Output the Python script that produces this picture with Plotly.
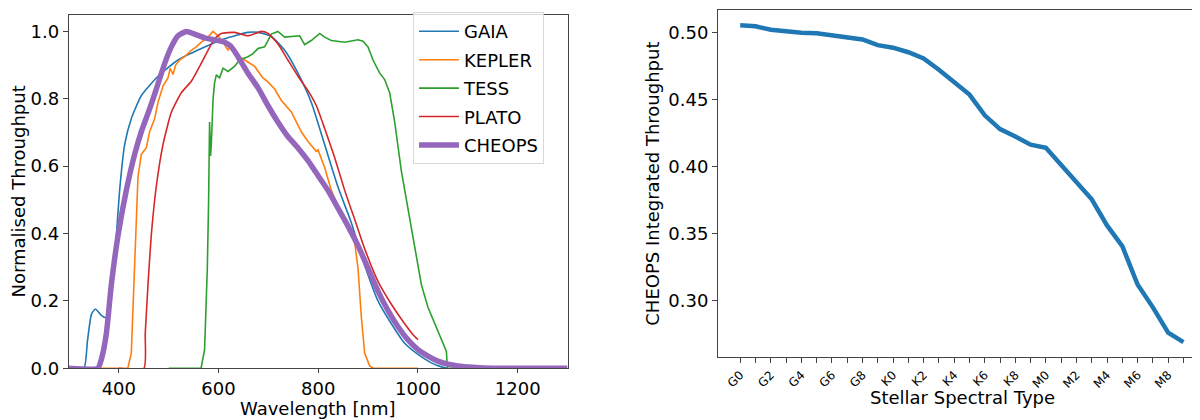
import plotly.graph_objects as go

# ---------------- Left panel data (wavelength nm, normalised throughput) ----------------
gaia_wl = [300, 330, 337, 345, 353, 365, 375, 391.6, 395, 401.6, 411.7, 425, 445, 478.5, 518.7, 565.5,
           612.3, 659, 679, 705.8, 732.6, 759.3, 786.1, 812.8, 839.6, 866.3, 893.1, 919.8, 946.6,
           973.3, 1000, 1026.8, 1047, 1060]
gaia_val = [0, 0, 0.08, 0.16, 0.176, 0.157, 0.15, 0.335, 0.393, 0.528, 0.664, 0.741, 0.809, 0.867, 0.915,
            0.949, 0.978, 0.997, 0.997, 0.985, 0.944, 0.876, 0.789, 0.664, 0.538, 0.432, 0.306, 0.2,
            0.132, 0.074, 0.041, 0.016, 0.004, 0]

kepler_wl = [300, 418, 425, 431.7, 438.4, 445, 455, 461.8, 471.9, 478.5, 488.6, 498.6, 503, 508.6, 514,
             522, 532, 545.4, 555.4, 565.5, 578.9, 588.9, 599, 609, 619, 625.7, 635.7, 652.4, 672.5,
             689, 699, 712.5, 726, 746, 766, 779.4, 796, 799.5, 812.8, 826.2, 843, 859.6, 873, 879.7,
             886.4, 893, 903, 910, 1000]
kepler_val = [0, 0, 0.045, 0.297, 0.567, 0.635, 0.654, 0.702, 0.741, 0.789, 0.838, 0.862, 0.89, 0.872, 0.9,
              0.915, 0.925, 0.944, 0.954, 0.968, 0.983, 1.0, 0.987, 0.968, 0.944, 0.963, 0.93, 0.915, 0.896,
              0.862, 0.85, 0.829, 0.795, 0.761, 0.702, 0.673, 0.644, 0.649, 0.596, 0.528, 0.470, 0.432,
              0.374, 0.297, 0.152, 0.045, 0.007, 0, 0]

tess_wl = [500, 565, 572, 577.5, 580, 582, 584, 585.5, 589, 592, 595.6, 602, 609, 619, 632, 642, 659,
           669, 679, 692.5, 706, 719, 732.6, 746, 762.7, 772.7, 786, 802.8, 812.8, 826, 853, 879.7,
           889.7, 899.8, 909.8, 923.2, 933.2, 943.2, 953.3, 966.6, 980, 993.4, 1006.8, 1020, 1033.5,
           1047, 1057, 1059, 1070]
tess_val = [0, 0, 0.055, 0.297, 0.49, 0.731, 0.63, 0.664, 0.799, 0.847, 0.871, 0.862, 0.891, 0.881, 0.896,
            0.915, 0.925, 0.934, 0.949, 0.954, 0.992, 1.0, 0.983, 0.985, 0.987, 0.961, 0.973, 0.994, 0.983,
            0.973, 0.968, 0.975, 0.971, 0.954, 0.915, 0.876, 0.857, 0.818, 0.731, 0.586, 0.470, 0.355,
            0.248, 0.181, 0.132, 0.084, 0.05, 0, 0]

plato_wl = [400, 450.5, 453, 458.5, 465, 475, 488.6, 505.3, 525.4, 545.4, 562, 578.9, 592, 605.6, 632.4,
            659, 686, 699, 719, 739, 759.3, 779.4, 796, 812.8, 833, 853, 873, 893, 919.8, 946.6, 973.3,
            993.4, 1000]
plato_val = [0, 0, 0.103, 0.248, 0.393, 0.538, 0.664, 0.760, 0.818, 0.852, 0.896, 0.944, 0.978, 0.994,
             0.997, 0.987, 1.0, 0.994, 0.963, 0.915, 0.867, 0.824, 0.780, 0.712, 0.625, 0.528, 0.442,
             0.355, 0.258, 0.190, 0.132, 0.094, 0.085]

cheops_wl = [300, 358, 364.9, 375, 385, 398.3, 415, 431.7, 445, 461.8, 475, 492, 505.3, 518.7, 535.4,
             552, 572, 592, 612.3, 625.7, 639, 659, 679, 699, 719, 739, 759.3, 779.4, 799.5, 819.5,
             839.6, 859.6, 879.7, 899.8, 919.8, 940, 960, 980, 1000, 1020, 1040, 1060, 1080, 1110,
             1150, 1300]
cheops_val = [0, 0, 0.026, 0.103, 0.248, 0.393, 0.528, 0.635, 0.702, 0.770, 0.828, 0.905, 0.954, 0.987,
              1.0, 0.992, 0.981, 0.975, 0.968, 0.954, 0.925, 0.876, 0.833, 0.78, 0.731, 0.688, 0.654,
              0.616, 0.572, 0.528, 0.475, 0.422, 0.364, 0.297, 0.229, 0.171, 0.123, 0.084, 0.055, 0.036,
              0.021, 0.012, 0.007, 0.003, 0.0, 0.0]

# ---------------- Right panel data ----------------
spectral_types = [f"{c}{i}" for c in "GKM" for i in range(10)]
integrated_throughput = [0.5055, 0.5048, 0.5022, 0.5009, 0.5000, 0.4995, 0.4978, 0.4961, 0.4949, 0.4907,
                         0.4888, 0.4854, 0.4808, 0.4723, 0.4628, 0.4538, 0.4383, 0.4280, 0.4225, 0.4164,
                         0.4140, 0.4013, 0.3885, 0.3756, 0.3561, 0.3406, 0.3120, 0.2949, 0.2760, 0.2689]
spectral_ticktext = [t if i % 2 == 0 else "" for i, t in enumerate(spectral_types)]

FONT = "DejaVu Sans"
AX = "#444444"
W, H = 1200, 420

fig = go.Figure()
series = [
    ("GAIA", gaia_wl, gaia_val, "#1f77b4", 1.6, "spline"),
    ("KEPLER", kepler_wl, kepler_val, "#ff7f0e", 1.6, "linear"),
    ("TESS", tess_wl, tess_val, "#2ca02c", 1.6, "linear"),
    ("PLATO", plato_wl, plato_val, "#d62728", 1.6, "spline"),
    ("CHEOPS", cheops_wl, cheops_val, "#9467bd", 5.5, "spline"),
]
for name, wl, val, col, w, shape in series:
    line = dict(color=col, width=w, shape=shape)
    if shape == "spline":
        line["smoothing"] = 0.5
    fig.add_trace(go.Scatter(x=wl, y=val, mode="lines", name=name, line=line,
                             legendgroup=name, xaxis="x", yaxis="y"))

fig.add_trace(go.Scatter(x=spectral_types, y=integrated_throughput, mode="lines",
                         line=dict(color="#1f77b4", width=4.5), showlegend=False,
                         xaxis="x2", yaxis="y2"))

axis_common = dict(showgrid=False, zeroline=False, showline=True, mirror=True,
                   linecolor=AX, linewidth=1.2, ticks="outside",
                   tickcolor=AX, tickwidth=1)


def title_ann(text, px, py, angle=0):
    return dict(text=text, x=px / W, y=1 - py / H, xref="paper", yref="paper",
                showarrow=False, textangle=angle, xanchor="center", yanchor="middle",
                font=dict(family=FONT, size=18, color="black"))


fig.update_layout(
    width=W, height=H,
    margin=dict(l=0, r=0, t=0, b=0),
    paper_bgcolor="white", plot_bgcolor="white",
    font=dict(family=FONT, size=18, color="black"),
    xaxis=dict(domain=[0.0508, 0.4663], range=[300, 1300], tickvals=[400, 600, 800, 1000, 1200],
               anchor="y", ticklen=4, **axis_common),
    yaxis=dict(domain=[0.1214, 0.984], range=[0, 1.05], tickvals=[0, 0.2, 0.4, 0.6, 0.8, 1.0],
               tickformat=".1f", anchor="x", ticklen=5, **axis_common),
    xaxis2=dict(domain=[0.5917, 0.998], type="category", range=[-1.45, 30.45],
                tickvals=spectral_types, ticktext=spectral_ticktext, tickangle=-45,
                tickfont=dict(size=12), anchor="y2", ticklen=5, **axis_common),
    yaxis2=dict(domain=[0.1483, 0.996], range=[0.2577, 0.5172],
                tickvals=[0.30, 0.35, 0.40, 0.45, 0.50], tickformat=".2f",
                anchor="x2", ticklen=5, **axis_common),
    legend=dict(x=0.3375, y=0.99, xanchor="left", yanchor="top",
                bgcolor="rgba(255,255,255,0.8)", bordercolor="#d8d8d8", borderwidth=1,
                font=dict(family=FONT, size=18), tracegroupgap=2, itemwidth=40),
    annotations=[
        title_ann("Wavelength [nm]", 310, 410),
        title_ann("Normalised Throughput", 11, 188, -90),
        title_ann("Stellar Spectral Type", 954, 399),
        title_ann("CHEOPS Integrated Throughput", 645, 180, -90),
    ],
)

fig.write_html("out.html")
